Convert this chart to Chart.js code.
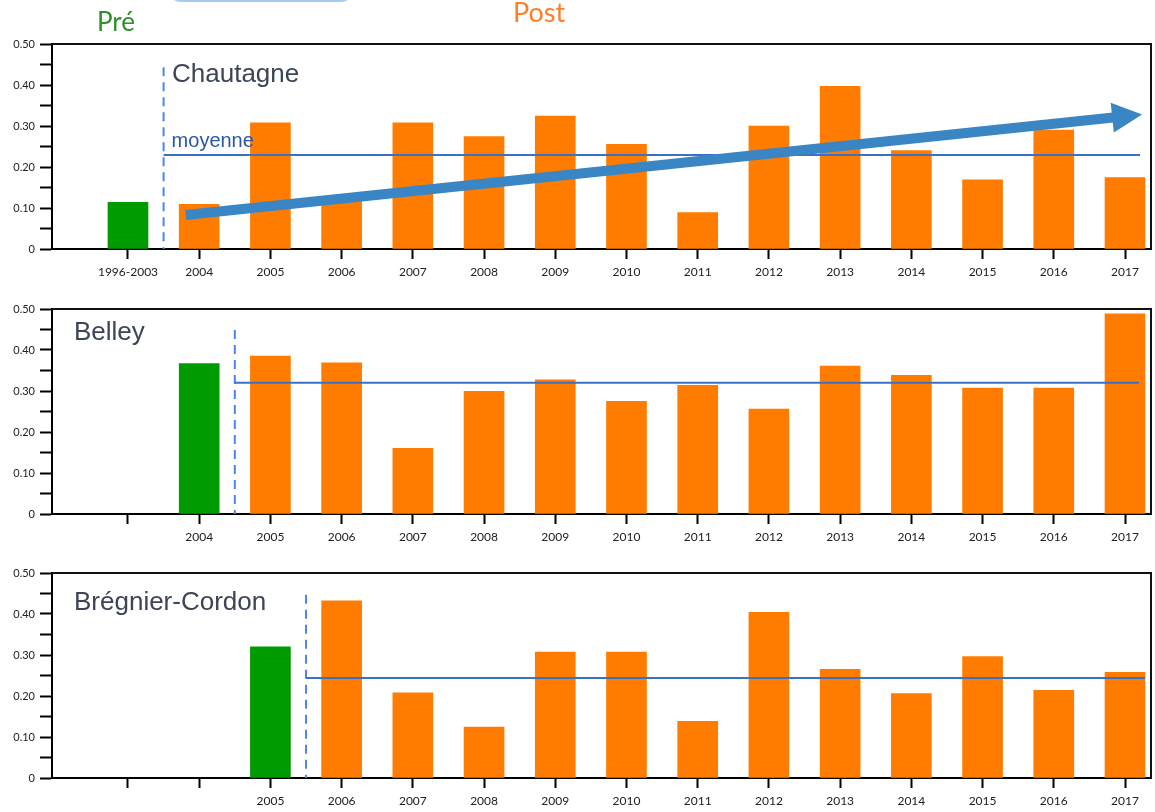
<!DOCTYPE html>
<html lang="fr">
<head>
<meta charset="UTF-8">
<title>Chautagne, Belley, Brégnier-Cordon - Pré / Post</title>
<script src="https://cdn.jsdelivr.net/npm/chart.js"></script>
<style>
    body { margin: 0; background: #fff; }
    .panel { position: absolute; left: 0; width: 1155px; }
</style>
</head>
<body>
<div class="panel" style="top:0;height:290px"><canvas id="chart1"></canvas></div>
<div class="panel" style="top:290px;height:265px"><canvas id="chart2"></canvas></div>
<div class="panel" style="top:555px;height:257px"><canvas id="chart3"></canvas></div>
<script>
// Données
const labelsChautagne = ['1996-2003', '2004', '2005', '2006', '2007', '2008', '2009', '2010', '2011', '2012', '2013', '2014', '2015', '2016', '2017'];
const valuesChautagne = [0.114, 0.109, 0.308, 0.12, 0.308, 0.274, 0.324, 0.255, 0.089, 0.300, 0.397, 0.240, 0.169, 0.290, 0.174];

const labelsBelley = ['', '2004', '2005', '2006', '2007', '2008', '2009', '2010', '2011', '2012', '2013', '2014', '2015', '2016', '2017'];
const valuesBelley = [null, 0.367, 0.385, 0.369, 0.160, 0.299, 0.327, 0.275, 0.314, 0.256, 0.361, 0.338, 0.307, 0.307, 0.488];

const labelsBregnier = ['', '', '2005', '2006', '2007', '2008', '2009', '2010', '2011', '2012', '2013', '2014', '2015', '2016', '2017'];
const valuesBregnier = [null, null, 0.320, 0.432, 0.208, 0.124, 0.307, 0.307, 0.138, 0.404, 0.265, 0.206, 0.296, 0.214, 0.258];

const stationNames = ['Chautagne', 'Belley', 'Brégnier-Cordon'];
const meanValues = [0.229, 0.320, 0.244];   // "moyenne" post
const preIndex = [0, 1, 2];                 // barre "Pré" de chaque station
const dividerTop = [0.443, 0.449, 0.447];   // haut de la ligne pointillée
const yTickLabels = ['0', '0.10', '0.20', '0.30', '0.40', '0.50'];
const trendArrow = [{ x: 0.81, y: 0.083 }, { x: 14.24, y: 0.328 }]; // flèche de tendance (Chautagne)

const ORANGE = '#ff7c00';
const GREEN = '#009b00';

// dessine titres, ligne pointillée, moyenne, flèche et cadre
const decorPlugin = {
    id: 'decor',
    afterDatasetsDraw(chart, args, opts) {
        const ctx = chart.ctx;
        const area = chart.chartArea;
        const xs = chart.scales.x;
        const ys = chart.scales.y;
        ctx.save();

        // ligne pointillée Pré / Post
        const xDiv = xs.getPixelForValue(opts.pre + 0.5);
        ctx.strokeStyle = '#4a86ee';
        ctx.lineWidth = 2;
        ctx.setLineDash([9, 6]);
        ctx.beginPath();
        ctx.moveTo(xDiv, ys.getPixelForValue(opts.dividerTop));
        ctx.lineTo(xDiv, area.bottom);
        ctx.stroke();
        ctx.setLineDash([]);

        // moyenne
        const yMean = ys.getPixelForValue(opts.mean);
        ctx.strokeStyle = '#3a70c6';
        ctx.lineWidth = 2;
        ctx.beginPath();
        ctx.moveTo(xDiv, yMean);
        ctx.lineTo(area.right - opts.meanEnd, yMean);
        ctx.stroke();

        if (opts.moyenne) {
            ctx.fillStyle = '#2b57a5';
            ctx.font = '20px "Liberation Sans", Arial, sans-serif';
            ctx.textBaseline = 'alphabetic';
            ctx.fillText('moyenne', xDiv + 8, yMean - 8);
        }

        // flèche de tendance
        if (opts.arrow) {
            const p0 = { x: xs.getPixelForValue(opts.arrow[0].x), y: ys.getPixelForValue(opts.arrow[0].y) };
            const p1 = { x: xs.getPixelForValue(opts.arrow[1].x), y: ys.getPixelForValue(opts.arrow[1].y) };
            const ang = Math.atan2(p1.y - p0.y, p1.x - p0.x);
            const c = Math.cos(ang), s = Math.sin(ang);
            const headLen = 30, headHalf = 15;
            const bx = p1.x - headLen * c, by = p1.y - headLen * s;
            ctx.strokeStyle = '#3a86c4';
            ctx.fillStyle = '#3a86c4';
            ctx.lineWidth = 10;
            ctx.beginPath();
            ctx.moveTo(p0.x, p0.y);
            ctx.lineTo(bx + c, by + s);
            ctx.stroke();
            ctx.beginPath();
            ctx.moveTo(p1.x, p1.y);
            ctx.lineTo(bx - s * headHalf, by + c * headHalf);
            ctx.lineTo(bx + s * headHalf, by - c * headHalf);
            ctx.closePath();
            ctx.fill();
        }

        // nom de la station
        ctx.fillStyle = '#3b4556';
        ctx.font = '26px "Liberation Sans", Arial, sans-serif';
        ctx.textBaseline = 'alphabetic';
        ctx.fillText(opts.title, opts.titleX, area.top + opts.titleDy);

        // cadre haut / droite
        ctx.strokeStyle = '#111';
        ctx.lineWidth = 2;
        ctx.beginPath();
        ctx.moveTo(area.left, area.top);
        ctx.lineTo(area.right, area.top);
        ctx.lineTo(area.right, area.bottom);
        ctx.stroke();

        // en-têtes Pré / Post
        if (opts.header) {
            ctx.font = '26px Lato, "Open Sans", sans-serif';
            ctx.fillStyle = '#2e8f2e';
            ctx.fillText('Pré', 97, 31);
            ctx.font = '27px Lato, "Open Sans", sans-serif';
            ctx.fillStyle = '#ff7f27';
            ctx.fillText('Post', 513, 22);
            ctx.strokeStyle = '#a9c9ea';
            ctx.lineWidth = 2;
            ctx.beginPath();
            ctx.moveTo(172, -4);
            ctx.quadraticCurveTo(174, 1, 182, 1);
            ctx.lineTo(340, 1);
            ctx.quadraticCurveTo(348, 1, 350, -4);
            ctx.stroke();
        }
        ctx.restore();
    }
};

function makePanel(canvasId, labels, values, k, extra) {
    const preData = [];
    const postData = [];
    values.forEach((v, i) => {
        if (v === null) return;
        if (i === preIndex[k]) preData.push({ x: i, y: v });
        else postData.push({ x: i, y: v });
    });

    return new Chart(document.getElementById(canvasId), {
        type: 'bar',
        data: {
            datasets: [
                { label: 'Pré', data: preData, backgroundColor: GREEN, barThickness: 40, grouped: false },
                { label: 'Post', data: postData, backgroundColor: ORANGE, barThickness: 40, grouped: false }
            ]
        },
        options: {
            responsive: true,
            maintainAspectRatio: false,
            animation: false,
            layout: { padding: { top: extra.padTop, right: 4, left: 0, bottom: 0 } },
            plugins: {
                legend: { display: false },
                tooltip: { enabled: false },
                decor: {
                    title: stationNames[k],
                    titleX: extra.titleX,
                    titleDy: extra.titleDy,
                    pre: preIndex[k],
                    mean: meanValues[k],
                    meanEnd: extra.meanEnd,
                    dividerTop: dividerTop[k],
                    moyenne: extra.moyenne,
                    arrow: extra.arrow,
                    header: extra.header
                }
            },
            scales: {
                x: {
                    type: 'linear',
                    min: -1.067,
                    max: 14.365,
                    offset: false,
                    afterFit: (scale) => { scale.height = extra.xHeight; },
                    afterBuildTicks: (scale) => {
                        scale.ticks = labels.map((l, i) => ({ value: i }));
                    },
                    grid: { offset: false, drawOnChartArea: false, drawTicks: true, tickLength: 10, tickColor: '#000', tickWidth: 2 },
                    border: { color: '#000', width: 2 },
                    ticks: {
                        stepSize: 1,
                        autoSkip: false,
                        maxRotation: 0,
                        padding: 6,
                        color: '#222',
                        font: { family: 'Lato, "Open Sans", sans-serif', size: 12 },
                        callback: (v) => labels[v] ?? ''
                    }
                },
                y: {
                    min: 0,
                    max: 0.5,
                    afterFit: (scale) => { scale.width = 52; },
                    grid: { drawOnChartArea: false, drawTicks: true, tickLength: 12, tickColor: '#000', tickWidth: 2 },
                    border: { color: '#000', width: 2 },
                    ticks: {
                        stepSize: 0.05,
                        padding: 5,
                        color: '#222',
                        font: { family: 'Lato, "Open Sans", sans-serif', size: 11 },
                        callback: (v) => {
                            const i = Math.round(v * 10);
                            return Math.abs(v * 10 - i) < 1e-6 ? yTickLabels[i] : '';
                        }
                    }
                }
            }
        },
        plugins: [decorPlugin]
    });
}

makePanel('chart1', labelsChautagne, valuesChautagne, 0,
    { padTop: 44, xHeight: 41, titleX: 172, titleDy: 38, meanEnd: 11, moyenne: true, arrow: trendArrow, header: true });
makePanel('chart2', labelsBelley, valuesBelley, 1,
    { padTop: 19, xHeight: 41, titleX: 74, titleDy: 31, meanEnd: 12, moyenne: false, arrow: null, header: false });
makePanel('chart3', labelsBregnier, valuesBregnier, 2,
    { padTop: 18, xHeight: 34, titleX: 74, titleDy: 37, meanEnd: 6, moyenne: false, arrow: null, header: false });
</script>
</body>
</html>
